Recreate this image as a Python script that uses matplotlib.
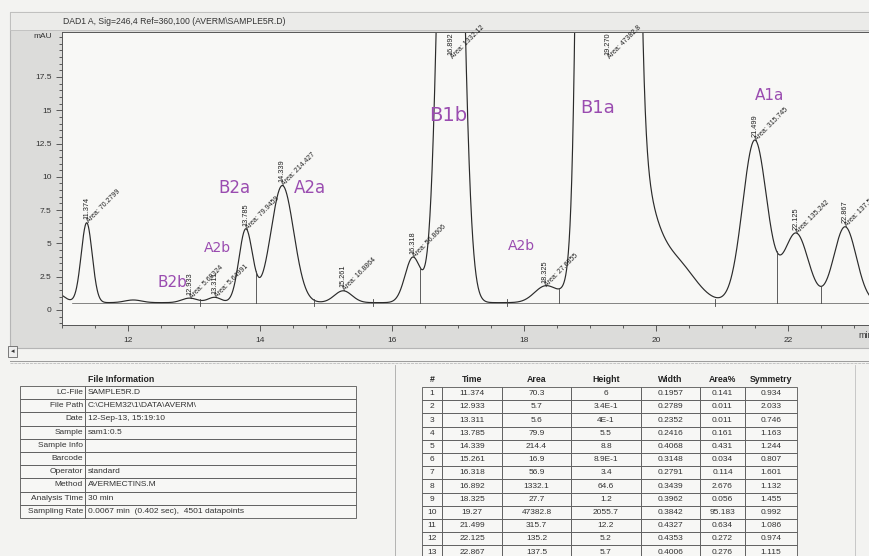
import numpy as np
import matplotlib
matplotlib.use("Agg")
import matplotlib.pyplot as plt
from matplotlib.patches import Rectangle
from matplotlib.ticker import MultipleLocator

# peak table, DAD1 A
peak_no = list(range(1, 14))
ret_time = [11.374, 12.933, 13.311, 13.785, 14.339, 15.261, 16.318,
            16.892, 18.325, 19.27, 21.499, 22.125, 22.867]
area = ["70.3", "5.7", "5.6", "79.9", "214.4", "16.9", "56.9",
        "1332.1", "27.7", "47382.8", "315.7", "135.2", "137.5"]
height = ["6", "3.4E-1", "4E-1", "5.5", "8.8", "8.9E-1", "3.4",
          "64.6", "1.2", "2055.7", "12.2", "5.2", "5.7"]
width = ["0.1957", "0.2789", "0.2352", "0.2416", "0.4068", "0.3148", "0.2791",
         "0.3439", "0.3962", "0.3842", "0.4327", "0.4353", "0.4006"]
area_pct = ["0.141", "0.011", "0.011", "0.161", "0.431", "0.034", "0.114",
            "2.676", "0.056", "95.183", "0.634", "0.272", "0.276"]
symmetry = ["0.934", "2.033", "0.746", "1.163", "1.244", "0.807", "1.601",
            "1.132", "1.455", "0.992", "1.086", "0.974", "1.115"]
area_labels = ["70.2799", "5.68324", "5.64991", "79.9459", "214.427", "16.8864",
               "56.8606", "1332.12", "27.6855", "47382.8", "315.745", "135.242",
               "137.521"]

# trace features not in the table (centre, height, half-height width)
extra_time = [10.9, 12.08, 19.5, 20.35]
extra_height = [0.75, 0.2, 14.5, 2.4]
extra_width = [0.3, 0.3, 0.85, 0.65]
baseline = 0.55

# integration marks
drop_times = [13.94, 16.42, 18.53, 21.83, 22.5]
mark_times = [13.09, 14.82, 15.72, 17.74, 20.89]

# handwritten notes
notes = ["B2b", "A2b", "B2a", "A2a", "B1b", "A2b", "B1a", "A1a"]
note_t = [12.67, 13.35, 13.62, 14.76, 16.85, 17.97, 19.12, 21.73]
note_y = [2.03, 4.66, 9.16, 9.16, 14.6, 4.8, 15.2, 16.1]
note_size = [11, 10, 12, 12, 14, 10, 13, 11]

file_keys = ["LC-File", "File Path", "Date", "Sample", "Sample Info", "Barcode",
             "Operator", "Method", "Analysis Time", "Sampling Rate"]
file_vals = ["SAMPLE5R.D", "C:\\CHEM32\\1\\DATA\\AVERM\\", "12-Sep-13, 15:19:10",
             "sam1:0.5", "", "", "standard", "AVERMECTINS.M", "30 min",
             "0.0067 min  (0.402 sec),  4501 datapoints"]

W, H = 869, 556
fig = plt.figure(figsize=(W / 100, H / 100), dpi=100)
fig.patch.set_facecolor("#f3f3f1")
tf = "Liberation Sans"

# pixel overlay for frames and tables
ov = fig.add_axes([0, 0, 1, 1], zorder=0)
ov.set_xlim(0, W)
ov.set_ylim(H, 0)
ov.axis("off")

def box(x0, y0, x1, y1, fc="none", ec="none", lw=0.6):
    ov.add_patch(Rectangle((x0, y0), x1 - x0, y1 - y0, facecolor=fc,
                           edgecolor=ec, linewidth=lw))

# chromatogram window
box(10, 12, W + 5, 348, fc="#dcdcda", ec="#b5b5b5", lw=0.8)
box(10, 12, W + 5, 30, fc="#ebebe9", ec="#bdbdbd", lw=0.6)
ov.text(63, 21, "DAD1 A, Sig=246,4 Ref=360,100 (AVERM\\SAMPLE5R.D)",
        fontsize=6.2, family=tf, va="center", color="#333333")
ov.text(52, 37, "mAU", fontsize=6, family=tf, ha="right", va="center",
        color="#333333")
ov.text(858, 336, "min", fontsize=6.5, family=tf, va="center", color="#333333")

# scroll icon and divider
box(8, 346, 17, 357, fc="#eeeeee", ec="#666666", lw=0.6)
ov.text(12.5, 351.5, "◂", fontsize=5, ha="center", va="center", color="#333333")
ov.plot([10, W], [361, 361], color="#9a9a9a", lw=0.7)
ov.plot([10, W], [363, 363], color="#c4c4c4", lw=0.7, ls=(0, (3, 1)))
ov.plot([395, 395], [365, H], color="#a8a8a8", lw=0.6)
ov.plot([855, 855], [365, H], color="#c0c0c0", lw=0.6)

# file information table
ov.text(88, 379, "File Information", fontsize=6.3, family=tf,
        weight="bold", va="center", color="#222222")
rh = 13.2
top = 386
for i, (k, v) in enumerate(zip(file_keys, file_vals)):
    y0 = top + i * rh
    box(20, y0, 85, y0 + rh, fc="#f7f7f5", ec="#555555")
    box(85, y0, 356, y0 + rh, fc="#f7f7f5", ec="#555555")
    ov.text(83, y0 + rh / 2, k, fontsize=6, family=tf, ha="right",
            va="center", color="#333333")
    ov.text(88, y0 + rh / 2, v, fontsize=6, family=tf, ha="left",
            va="center", color="#333333")

# peak table
col_edges = [422, 442, 502, 571, 641, 700, 745, 797]
headers = ["#", "Time", "Area", "Height", "Width", "Area%", "Symmetry"]
columns = [[str(n) for n in peak_no], [f"{t:g}" for t in ret_time], area,
           height, width, area_pct, symmetry]
for j, hd in enumerate(headers):
    xc = (col_edges[j] + col_edges[j + 1]) / 2
    ov.text(xc, 380, hd, fontsize=6.3, family=tf, weight="bold",
            ha="center", va="center", color="#222222")
    for i, val in enumerate(columns[j]):
        y0 = 387 + i * rh
        box(col_edges[j], y0, col_edges[j + 1], y0 + rh, fc="#f7f7f5",
            ec="#555555")
        ov.text(xc, y0 + rh / 2, val, fontsize=6, family=tf, ha="center",
                va="center", color="#333333")

# chromatogram axes
x0, x1, y0p, y1p = 62, W, 32, 325
ax = fig.add_axes([x0 / W, (H - y1p) / H, (x1 - x0) / W, (y1p - y0p) / H],
                  zorder=1)
ax.set_facecolor("#f8f8f6")
ax.set_xlim(11.0, 23.23)
ax.set_ylim(-1.13, 20.88)

t = np.linspace(10.5, 23.5, 4000)
sig = np.full_like(t, baseline)
hts = [float(h) for h in height]
for c, h, w in zip(ret_time + extra_time, hts + extra_height,
                   [float(w) for w in width] + extra_width):
    s = w / 2.3548
    sig += h * np.exp(-0.5 * ((t - c) / s) ** 2)
ax.plot(t, sig, color="#2b2b2b", lw=0.85)

# integration baseline and drop lines
ax.plot([11.15, 23.3], [baseline, baseline], color="#555555", lw=0.5)
for d in drop_times:
    ax.plot([d, d], [baseline, np.interp(d, t, sig)], color="#444444", lw=0.6)
for m in mark_times:
    ax.plot([m, m], [baseline - 0.25, baseline + 0.25], color="#444444", lw=0.6)

# peak labels
ytop = 18.9
for c, h, a in zip(ret_time, hts, area_labels):
    py = min(baseline + h, ytop)
    ax.annotate(f"{c:.3f}", (c, py), xytext=(0, 2.5), textcoords="offset points",
                rotation=90, ha="center", va="bottom", fontsize=5.3,
                family=tf, color="#222222", clip_on=False)
    ax.annotate(f"Area: {a}", (c, py), xytext=(2.5, -1.5),
                textcoords="offset points", rotation=45, rotation_mode="anchor",
                ha="left", va="bottom", fontsize=5.0, family=tf,
                color="#222222", annotation_clip=False)

for n, nt, ny, ns in zip(notes, note_t, note_y, note_size):
    ax.text(nt, ny, n, fontsize=ns, color="#9a4cb0", ha="center",
            va="center", family="DejaVu Sans")

ax.yaxis.set_major_locator(MultipleLocator(2.5))
ax.yaxis.set_minor_locator(MultipleLocator(0.5))
ax.xaxis.set_major_locator(MultipleLocator(2))
ax.xaxis.set_minor_locator(MultipleLocator(0.5))
ax.set_yticks([0, 2.5, 5, 7.5, 10, 12.5, 15, 17.5])
ax.set_yticklabels(["0", "2.5", "5", "7.5", "10", "12.5", "15", "17.5"])
ax.tick_params(which="both", direction="out", colors="#444444",
               labelsize=6, width=0.6)
ax.tick_params(which="major", length=4)
ax.tick_params(which="minor", length=2)
for lab in ax.get_xticklabels() + ax.get_yticklabels():
    lab.set_family(tf)
    lab.set_color("#333333")
ax.tick_params(axis="x", pad=5)
ax.spines["right"].set_visible(False)
for sp in ["left", "bottom", "top"]:
    ax.spines[sp].set_color("#555555")
    ax.spines[sp].set_linewidth(0.7)

fig.savefig("out.png", dpi=100, facecolor=fig.get_facecolor())
